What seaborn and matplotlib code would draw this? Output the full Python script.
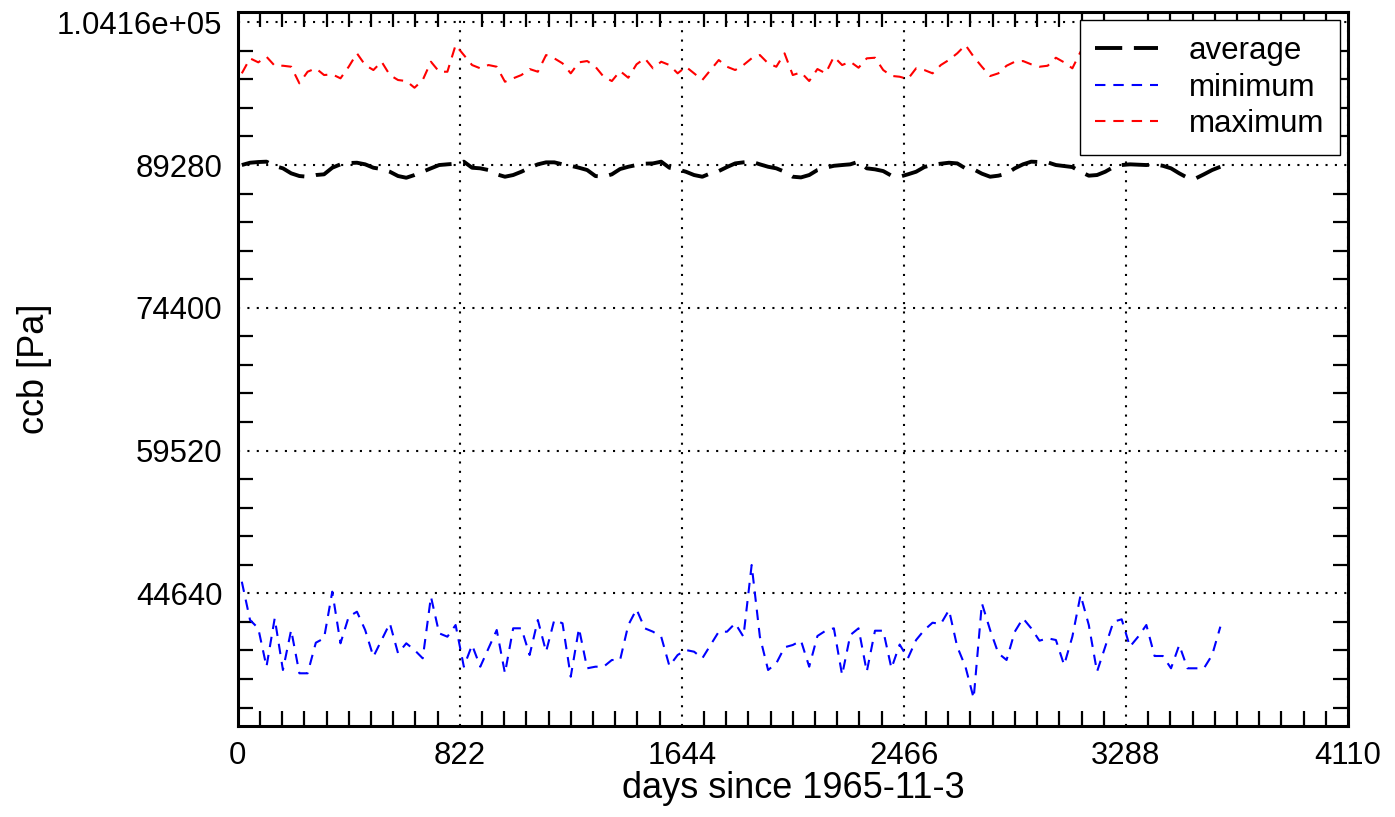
import numpy as np
import pandas as pd
import matplotlib
matplotlib.use("Agg")
import matplotlib.pyplot as plt
import seaborn as sns
from matplotlib.ticker import MultipleLocator, FuncFormatter

# valores mensais (Pa)
avg_vals = [
    89280, 89520, 89593, 89630, 89176, 88936, 88415, 88134, 88061, 88238,
    88311, 88999, 89353, 89488, 89520, 89353, 88999, 88863, 88582, 88134,
    87956, 88238, 88582, 88936, 89280, 89353, 89419, 89630, 88999, 88936,
    88759, 88311, 88061, 88238, 88582, 88999, 89353, 89560, 89560, 89353,
    89200, 88999, 88759, 88134, 88061, 88311, 88863, 89100, 89280, 89419,
    89450, 89630, 88999, 88830, 88582, 88238, 88061, 88415, 88650, 89070,
    89450, 89560, 89630, 89353, 89100, 88936, 88582, 88061, 87990, 88238,
    88759, 88999, 89200, 89280, 89353, 89630, 88936, 88830, 88650, 88170,
    88061, 88311, 88582, 89070, 89315, 89419, 89520, 89450, 88936, 88830,
    88380, 88061, 88170, 88380, 88936, 89353, 89630, 89593, 89560, 89280,
    89176, 89070, 88582, 88170, 88238, 88582, 89070, 89280, 89353, 89315,
    89280, 89353, 89200, 88936, 88415, 87956, 87885, 88311, 88759, 89100,
]

min_vals = [
    45849, 41857, 40992, 36990, 42034, 36646, 40815, 36302, 36302, 39491,
    39950, 44807, 39428, 42201, 42722, 40815, 38032, 39772, 41513, 38386,
    39428, 38730, 37865, 44286, 40471, 40116, 41336, 36990, 39251, 36990,
    38907, 40815, 36302, 40992, 40992, 38209, 41857, 38553, 41857, 41513,
    35947, 40992, 36823, 36990, 36990, 37688, 37688, 41336, 42972, 40992,
    40638, 40116, 37062, 38209, 38730, 38553, 37865, 39251, 40638, 40638,
    41513, 40116, 47590, 40116, 36646, 37344, 39012, 39251, 39700, 36990,
    40189, 40742, 40992, 36124, 40294, 40992, 36468, 40742, 40742, 36823,
    39300, 37865, 39772, 40815, 41576, 41440, 42900, 39074, 36990, 33696,
    43598, 40815, 38386, 37688, 40638, 42034, 40992, 39700, 39950, 39772,
    37167, 40116, 44463, 41336, 36468, 39074, 41680, 41930, 39074, 40116,
    41336, 38105, 38105, 36823, 39251, 36823, 36823, 36823, 38209, 41162,
]

max_vals = [
    98838, 100401, 99984, 100568, 99630, 99630, 99526, 97796, 99005, 99359,
    98661, 98730, 98317, 99526, 100922, 99703, 99182, 100047, 98661, 98140,
    98035, 97337, 98140, 100047, 99005, 99005, 101788, 100745, 99703, 99359,
    99703, 99526, 97962, 98317, 98661, 99286, 99005, 100745, 100401, 99880,
    98838, 99984, 100120, 99526, 98483, 98035, 99078, 98379, 99776, 100401,
    99359, 100047, 99703, 98838, 99526, 98838, 98140, 99182, 100224, 99526,
    99182, 99703, 100401, 100745, 99880, 99526, 100922, 98661, 98942, 98035,
    99286, 98838, 100568, 99703, 100047, 99422, 100401, 100464, 99182, 98572,
    98483, 98244, 99359, 99182, 98838, 99700, 100240, 100922, 101788, 100568,
    99526, 98556, 98838, 99630, 100047, 100120, 99776, 99526, 99630, 100464,
    99984, 99359, 101089, 100300, 99600, 99100, 99800, 100400, 99900, 99300,
    98900, 99500, 100200, 100600, 99800, 99200, 99700, 100300, 99900, 99400,
]

# meio de cada mes, em dias desde 1965-11-3
days = 15.2 + 30.44 * np.arange(len(avg_vals))

y_major = 14880
x_major = 822

sns.set_style("ticks")
plt.rcParams['font.family'] = ['Liberation Sans', 'DejaVu Sans']
plt.rcParams['font.size'] = 22
for k in ['text.color', 'axes.labelcolor', 'xtick.color', 'ytick.color',
          'xtick.labelcolor', 'ytick.labelcolor']:
    plt.rcParams[k] = 'black'

fig = plt.figure(figsize=(13.95, 8.17), dpi=100)
ax = fig.add_axes([0.1704, 0.1114, 0.7959, 0.8739])

sns.lineplot(x=days, y=avg_vals, ax=ax, color='black', lw=2.8,
             linestyle=(0, (7, 3)), label='average')
sns.lineplot(x=days, y=min_vals, ax=ax, color='#0000ff', lw=1.5,
             linestyle=(0, (5, 3.8)), label='minimum')
sns.lineplot(x=days, y=max_vals, ax=ax, color='#ff0000', lw=1.5,
             linestyle=(0, (5, 3.8)), label='maximum')

ax.set_xlim(0, 4110)
ax.set_ylim(30810, 105230)

ax.xaxis.set_major_locator(MultipleLocator(x_major))
ax.xaxis.set_minor_locator(MultipleLocator(x_major / 10))
ax.yaxis.set_major_locator(MultipleLocator(y_major))
ax.yaxis.set_minor_locator(MultipleLocator(y_major / 5))


def fmt_y(v, pos):
    if v >= 1e5:
        return '%.4e' % v
    return '%d' % round(v)


ax.yaxis.set_major_formatter(FuncFormatter(fmt_y))
ax.xaxis.set_major_formatter(FuncFormatter(lambda v, p: '%d' % round(v)))

ax.tick_params(which='both', direction='in', top=True, right=True,
               labelsize=22.4, color='black', labelcolor='black')
ax.tick_params(which='major', length=0, pad=11)
ax.tick_params(which='minor', length=11, width=1.6)

ax.grid(True, which='major', color='black', linestyle=(0, (1, 3.5)), lw=1.5)

for s in ax.spines.values():
    s.set_linewidth(2.2)
    s.set_color('black')

ax.set_xlabel('days since 1965-11-3', fontsize=26, labelpad=0)
ax.set_ylabel('ccb [Pa]', fontsize=26)
ax.yaxis.set_label_coords(-0.167, 0.5)

leg = ax.legend(loc='upper right', bbox_to_anchor=(0.9928, 0.9888),
                borderaxespad=0, fancybox=False, framealpha=1,
                edgecolor='black', fontsize=22.5, handlelength=2.0,
                handletextpad=1.0, labelspacing=0.22, borderpad=0.5)
leg.get_frame().set_linewidth(1.0)

fig.savefig('out.png', dpi=100)
